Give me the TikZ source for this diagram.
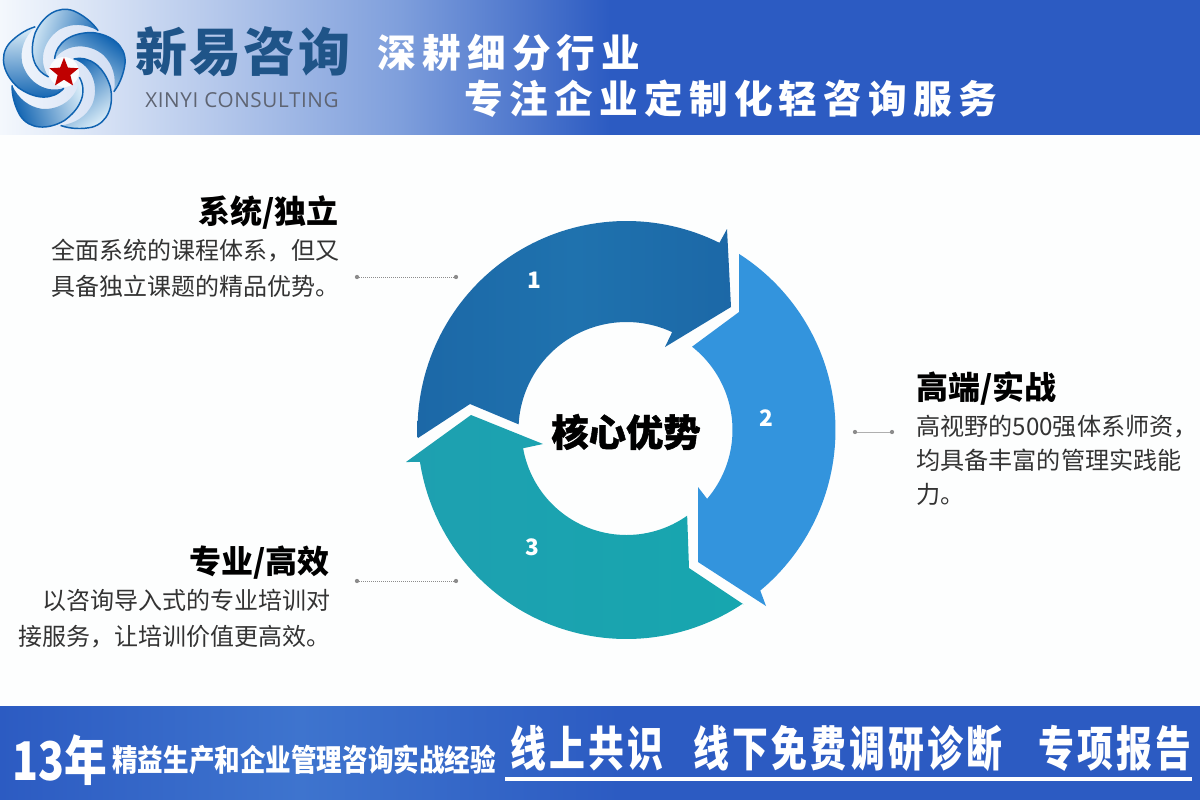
\documentclass[tikz,border=0pt]{standalone}
\usepackage{fontspec}
\usepackage{graphicx}
\usetikzlibrary{shapes.geometric}
\setmainfont{Noto Sans CJK SC}
\newfontfamily\latinf{Open Sans}
\definecolor{pagebg}{HTML}{FDFEFE}
\definecolor{barblue}{HTML}{2C5BC2}
\definecolor{barlight}{HTML}{3E74CE}
\definecolor{headlight}{HTML}{F4F8FD}
\definecolor{headmid}{HTML}{7F9FDC}
\definecolor{logoblue}{HTML}{0F62B0}
\definecolor{logomid}{HTML}{2F8AD0}
\definecolor{logolight}{HTML}{DCEEF9}
\definecolor{logonavy}{HTML}{1F5488}
\definecolor{logogrey}{HTML}{5E6472}
\definecolor{aone}{HTML}{1F72AE}
\definecolor{aonedark}{HTML}{1C68A7}
\definecolor{atwo}{HTML}{3394DD}
\definecolor{athree}{HTML}{17A6AF}
\definecolor{athreeb}{HTML}{1EA0B0}
\definecolor{bodytext}{HTML}{333333}
\definecolor{leader}{HTML}{8C8C8C}
\tikzset{
  x=0.75pt,y=-0.75pt,
  title/.style={text=black,inner sep=0pt,font=\fontsize{24pt}{28pt}\selectfont\bfseries},
  body/.style={text=bodytext,inner sep=0pt,font=\fontsize{18pt}{27pt}\selectfont},
  bodytight/.style={text=bodytext,inner sep=0pt,font=\fontsize{18.1pt}{25.5pt}\selectfont},
  num/.style={text=white,inner sep=0pt,font=\fontsize{17pt}{20pt}\selectfont\bfseries},
  slogan/.style={text=white,inner sep=0pt,font=\fontsize{29pt}{33pt}\selectfont\bfseries\addfontfeature{LetterSpace=16}},
  footbig/.style={text=white,inner sep=0pt,font=\fontsize{32pt}{36pt}\selectfont\bfseries\addfontfeature{LetterSpace=9}},
  leaderline/.style={draw=leader,line width=0.5pt,densely dotted},
  leadersolid/.style={draw=leader!70,line width=0.5pt},
  leaderdot/.style={circle,fill=leader,inner sep=0pt,minimum size=3.2pt},
}
\begin{document}
\begin{tikzpicture}
\useasboundingbox (0,0) rectangle (1200,800);
\fill[pagebg] (0,0) rectangle (1200,800);
% header
\fill[barblue] (0,0) rectangle (1200,138);
\shade[left color=headlight,right color=headmid] (0,0) rectangle (400,138);
\shade[left color=headmid,right color=barblue] (399.5,0) rectangle (610,138);
\fill[pagebg] (0,135) rectangle (1200,140);
% footer
\fill[barblue] (0,706) rectangle (1200,800);
\shade[left color=barblue,right color=barlight] (0,706) rectangle (300,800);
\shade[left color=barlight,right color=barblue] (299.5,706) rectangle (620,800);
% logo
\foreach \r in {0,72,144,216,288}{
  \pgfmathsetmacro{\ang}{-\r-35}
  \begin{scope}[shift={(64,72)},rotate=\r,scale=0.94]
    \shade[top color=logoblue,middle color=logomid,bottom color=logolight,shading angle=\ang] (-10,-14) .. controls (-8,-32) and (8,-42) .. (30,-42)
      .. controls (50,-40) and (66,-28) .. (65,-10)
      .. controls (64,0) and (60,12) .. (53,21)
      .. controls (56,5) and (52,-8) .. (42,-18)
      .. controls (28,-30) and (4,-32) .. cycle;
    \draw[logoblue,line width=1.1pt] (-10,-14) .. controls (-8,-32) and (8,-42) .. (30,-42)
      .. controls (50,-40) and (66,-28) .. (65,-10)
      .. controls (64,0) and (60,12) .. (53,21);
  \end{scope}
}
\fill[white!85!logolight] (64,72) circle (15);
\node[star,star points=5,star point ratio=2.3,fill=red!75!black,inner sep=0pt,minimum size=23] (logostar) at (64,73) {};
\node[inner sep=0pt,text=logonavy,font=\fontsize{39pt}{44pt}\selectfont\bfseries\addfontfeature{LetterSpace=4}] (brand) at (243,52) {新易咨询};
\node[inner sep=0pt,text=logogrey,font=\fontsize{15.5pt}{18pt}\selectfont\latinf\addfontfeature{LetterSpace=3}] (brandlatin) at (242,100) {XINYI CONSULTING};
\node[slogan] (sloganone) at (509,53) {深耕细分行业};
\node[slogan] (slogantwo) at (731,99) {专注企业定制化轻咨询服务};
% ring arrows
\shade[left color=aonedark,right color=aonedark,middle color=aone]
  (418,438) -- plot[domain=182:63.6,samples=70] ({626.5+209*cos(\x)},{430-209*sin(\x)})
  -- (727,229) -- (731,307) -- (665,347)
  -- plot[domain=65:177,samples=50] ({626.5+108*cos(\x)},{430-108*sin(\x)})
  -- (470,404) -- cycle;
\fill[atwo]
  (739,254) -- plot[domain=57.4:-50.2,samples=70] ({626.5+209*cos(\x)},{430-209*sin(\x)})
  -- (766,606) -- (698,562) -- (698,487)
  -- plot[domain=-40.5:51.8,samples=50] ({626.5+106*cos(\x)},{430-106*sin(\x)})
  -- (739,312) -- cycle;
\shade[left color=athreeb,right color=athree]
  (743,604) -- plot[domain=-56.2:-171.2,samples=70] ({626.5+209*cos(\x)},{430-209*sin(\x)})
  -- (406,462) -- (471,415) -- (543,444)
  -- plot[domain=-170:-54.7,samples=50] ({626.5+105*cos(\x)},{430-105*sin(\x)})
  -- (689,568) -- cycle;
\node[num] (none) at (534,280) {1};
\node[num] (ntwo) at (766,418) {2};
\node[num] (nthree) at (532,547) {3};
\node[inner sep=0pt,text=black,font=\fontsize{28pt}{32pt}\selectfont\bfseries\addfontfeature{FakeBold=1.2}] (core) at (626,432) {核心优势};
% text blocks
\node[title,anchor=east] (tone) at (339,213) {系统/独立};
\node[body,anchor=north west,align=left] (bone) at (51,239) {全面系统的课程体系，但又\\具备独立课题的精品优势。};
\node[title,anchor=west] (ttwo) at (916,388) {高端/实战};
\node[bodytight,anchor=north west,align=left] (btwo) at (916,415) {高视野的500强体系师资，\\均具备丰富的管理实践能\\力。};
\node[title,anchor=east] (tthree) at (330,563) {专业/高效};
\node[body,anchor=north east,align=right] (bthree) at (331,589) {以咨询导入式的专业培训对\\接服务，让培训价值更高效。};
% leaders
\node[leaderdot] (lone) at (357,277) {};
\node[leaderdot] (done) at (456,277) {};
\node[leaderdot] (ltwo) at (855,432) {};
\node[leaderdot] (dtwo) at (892,432) {};
\node[leaderdot] (lthree) at (357,581) {};
\node[leaderdot] (dthree) at (456,581) {};
\draw[leaderline] (lone) -- (done);
\draw[leadersolid] (ltwo) -- (dtwo);
\draw[leaderline] (lthree) -- (dthree);
% footer text
\node[inner sep=0pt,text=white,anchor=west,font=\fontsize{40pt}{44pt}\selectfont\bfseries] (years) at (12,760) {\scalebox{0.8}[1]{13年}};
\node[inner sep=0pt,text=white,anchor=west,font=\fontsize{19pt}{22pt}\selectfont\bfseries] (exp) at (112,760) {\scalebox{1.01}[1.2]{精益生产和企业管理咨询实战经验}};
\node[footbig,anchor=west] (fone) at (510,748) {\scalebox{0.84}[1.12]{线上共识}};
\node[footbig,anchor=west] (ftwo) at (693,748) {\scalebox{0.84}[1.12]{线下免费调研诊断}};
\node[footbig,anchor=east] (fthree) at (1192,748) {\scalebox{0.84}[1.12]{专项报告}};
\coordinate (rulea) at (505,779);
\coordinate (ruleb) at (1192,779);
\draw[white,line width=3pt] (rulea) -- (ruleb);
\end{tikzpicture}
\end{document}
